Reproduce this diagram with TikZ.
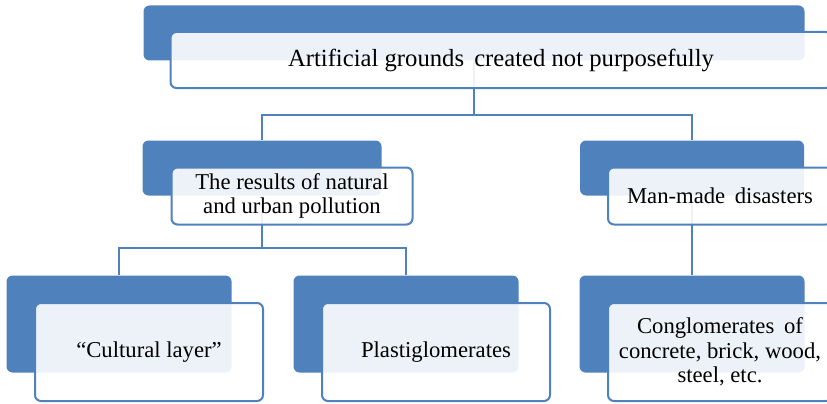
\documentclass[tikz,border=0pt]{standalone}
\usepackage{fontspec}
\setmainfont{Liberation Serif}
\definecolor{boxblue}{HTML}{4F81BD}
\newdimen\pxu \pxu=0.75pt
\tikzset{
	back/.style={fill=boxblue,draw=none,rounded corners=6\pxu,inner sep=0pt},
	front/.style={draw=boxblue,line width=2\pxu,fill=white,fill opacity=0.9,text opacity=1,
		rounded corners=6\pxu,inner sep=0pt,align=center,font=\fontsize{17}{18.2}\selectfont},
	link/.style={draw=boxblue,line width=2\pxu}
}
\begin{document}
\begin{tikzpicture}[>=stealth,x=0.75pt,y=-0.75pt]
			%\draw[line width=0.2pt] (0,0) grid (827,403);
			\useasboundingbox (0,0) rectangle (827,403);
			\clip (0,0) rectangle (827,403);
			% back boxes
			\node[back,minimum width=661\pxu,minimum height=55\pxu] (topb) at (474,33) {};
			\node[back,minimum width=239\pxu,minimum height=55\pxu] (midlb) at (262,168) {};
			\node[back,minimum width=224\pxu,minimum height=55\pxu] (midrb) at (692,168) {};
			\node[back,minimum width=225\pxu,minimum height=97\pxu] (botlb) at (119,324) {};
			\node[back,minimum width=225\pxu,minimum height=97\pxu] (botmb) at (406,324) {};
			\node[back,minimum width=225\pxu,minimum height=97\pxu] (botrb) at (692,324) {};
			% connectors
			\coordinate (bus1) at (474,115);
			\coordinate (bus2) at (262,248);
			\draw[link] (topb) -- (bus1);
			\draw[link] (midlb) |- (bus1) -| (midrb);
			\draw[link] (midlb) -- (bus2);
			\draw[link] (botlb) |- (bus2) -| (botmb);
			\draw[link] (midrb) -- (botrb);
			% front boxes
			\node[front,minimum width=661\pxu,minimum height=56\pxu,font=\fontsize{18.5}{20}\selectfont] (top) at (501,60)
				{Artificial grounds\hspace{3pt} created not purposefully};
			\node[front,minimum width=241\pxu,minimum height=57\pxu] (midl) at (292,196)
				{The results of natural\\and urban pollution};
			\node[front,minimum width=224\pxu,minimum height=57\pxu] (midr) at (720,196)
				{Man-made\hspace{3pt} disasters};
			\node[front,minimum width=228\pxu,minimum height=98\pxu] (botl) at (149,352)
				{``Cultural layer''};
			\node[front,minimum width=228\pxu,minimum height=98\pxu] (botm) at (436,352)
				{Plastiglomerates};
			\node[front,minimum width=224\pxu,minimum height=98\pxu] (botr) at (720,352)
				{Conglomerates\hspace{3pt} of\\concrete, brick, wood,\\steel, etc.};
	\end{tikzpicture}
\end{document}
